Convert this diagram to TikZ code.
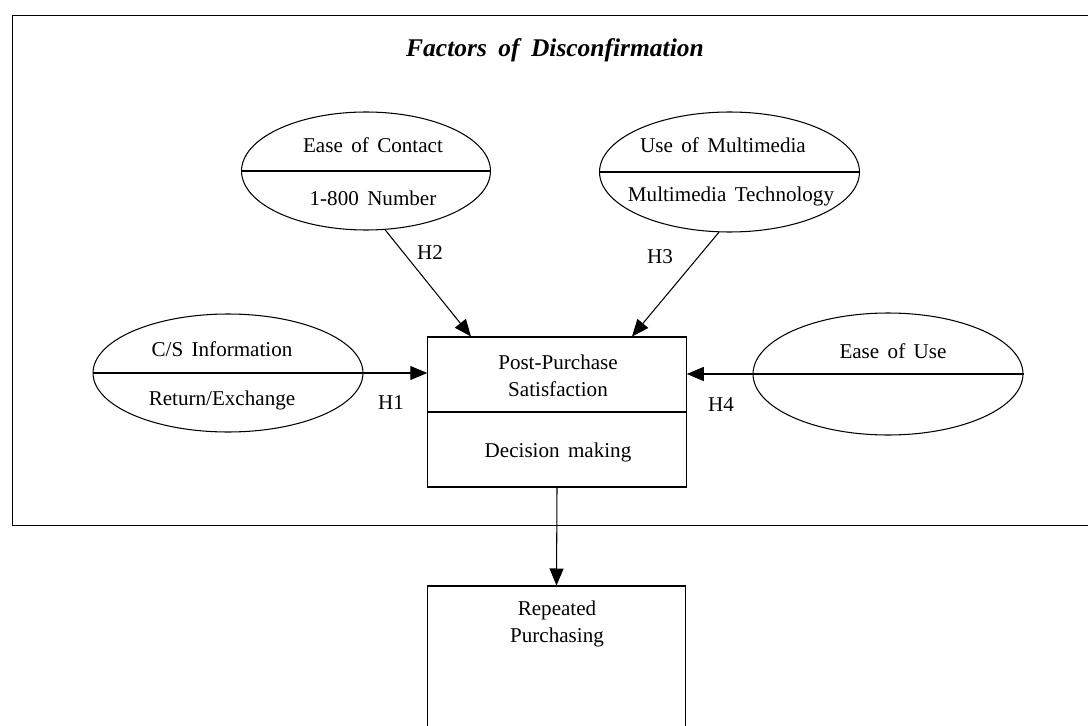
\documentclass[tikz,border=0pt]{standalone}
\usepackage{fontspec}
\setmainfont{Liberation Serif}
\usetikzlibrary{positioning,calc}
\usetikzlibrary{arrows.meta,shapes.geometric}
\newcommand\widesp[1]{\spaceskip=#1em plus 0.1em\relax}
\tikzset{
	oval/.style={ellipse,draw=black,line width=0.6pt,inner sep=0pt},
	stage/.style={rectangle,draw=black,line width=0.6pt,inner sep=0pt,minimum width=5.17cm},
	txt/.style={font={\fontsize{12}{15.5}\selectfont\widesp{0.4}},align=center,inner sep=1pt},
	split/.style={draw=black,line width=0.6pt},
	link/.style={draw=black,line width=0.6pt,-{Triangle[length=0.34cm,width=0.28cm]}},
}

\begin{document}
\begin{tikzpicture}[x=0.02cm,y=-0.02cm]
	\useasboundingbox (0,0) rectangle (1088,726);
	\clip (0,0) rectangle (1088,726);
	% frame and title
	\node[split,rectangle,inner sep=0pt,minimum width=22.16cm,minimum height=10.22cm] (frame) at (566,270.5) {};
	\node[txt,font={\fontsize{14.5}{17}\selectfont\bfseries\itshape\widesp{0.45}}] (title) at (555,50) {Factors of Disconfirmation};
	% factors
	\node[oval,minimum width=4.98cm,minimum height=2.36cm] (contact) at (366,171) {};
	\node[oval,minimum width=5.2cm,minimum height=2.4cm] (media) at (729.5,172) {};
	\node[oval,minimum width=5.4cm,minimum height=2.36cm] (info) at (228,373) {};
	\node[oval,minimum width=5.4cm,minimum height=2.44cm] (use) at (888,374) {};
	\draw[split] (contact.west) -- (contact.east);
	\draw[split] (media.west) -- (media.east);
	\node[txt] (contact1) at (373,145) {Ease of Contact};
	\node[txt] (contact2) at (373,198) {1-800 Number};
	\node[txt] (media1) at (723,145) {Use of Multimedia};
	\node[txt] (media2) at (731,196) {Multimedia Technology};
	\node[txt] (info1) at (222,349) {C/S Information};
	\node[txt] (info2) at (222,400) {Return/Exchange};
	\node[txt] (use1) at (893,351) {Ease of Use};
	% satisfaction and outcome
	\node[stage,minimum height=3cm] (pps) at (557,412) {};
	\draw[split] (pps.west) -- (pps.east);
	\node[txt] (pps1) at (558,376) {Post-Purchase\\Satisfaction};
	\node[txt] (pps2) at (558,452) {Decision making};
	\node[stage,minimum height=4.28cm] (rep) at (556.5,693) {};
	\node[txt] (rep1) at (557,624) {Repeated\\Purchasing};
	% hypotheses
	\draw[link] (info.west) -- (info.west -| pps.west);
	\draw[link] (use.east) -- (use.east -| pps.east);
	\draw[link] (contact.-72) -- ($(pps.north)+(-86,0)$);
	\draw[link] (media.-100) -- ($(pps.north)+(75,0)$);
	\draw[link] (pps.south) -- (rep.north);
	\node[txt] (h1) at (391,403) {H1};
	\node[txt] (h2) at (430,253) {H2};
	\node[txt] (h3) at (660,257) {H3};
	\node[txt] (h4) at (721,405) {H4};
\end{tikzpicture}
\end{document}
